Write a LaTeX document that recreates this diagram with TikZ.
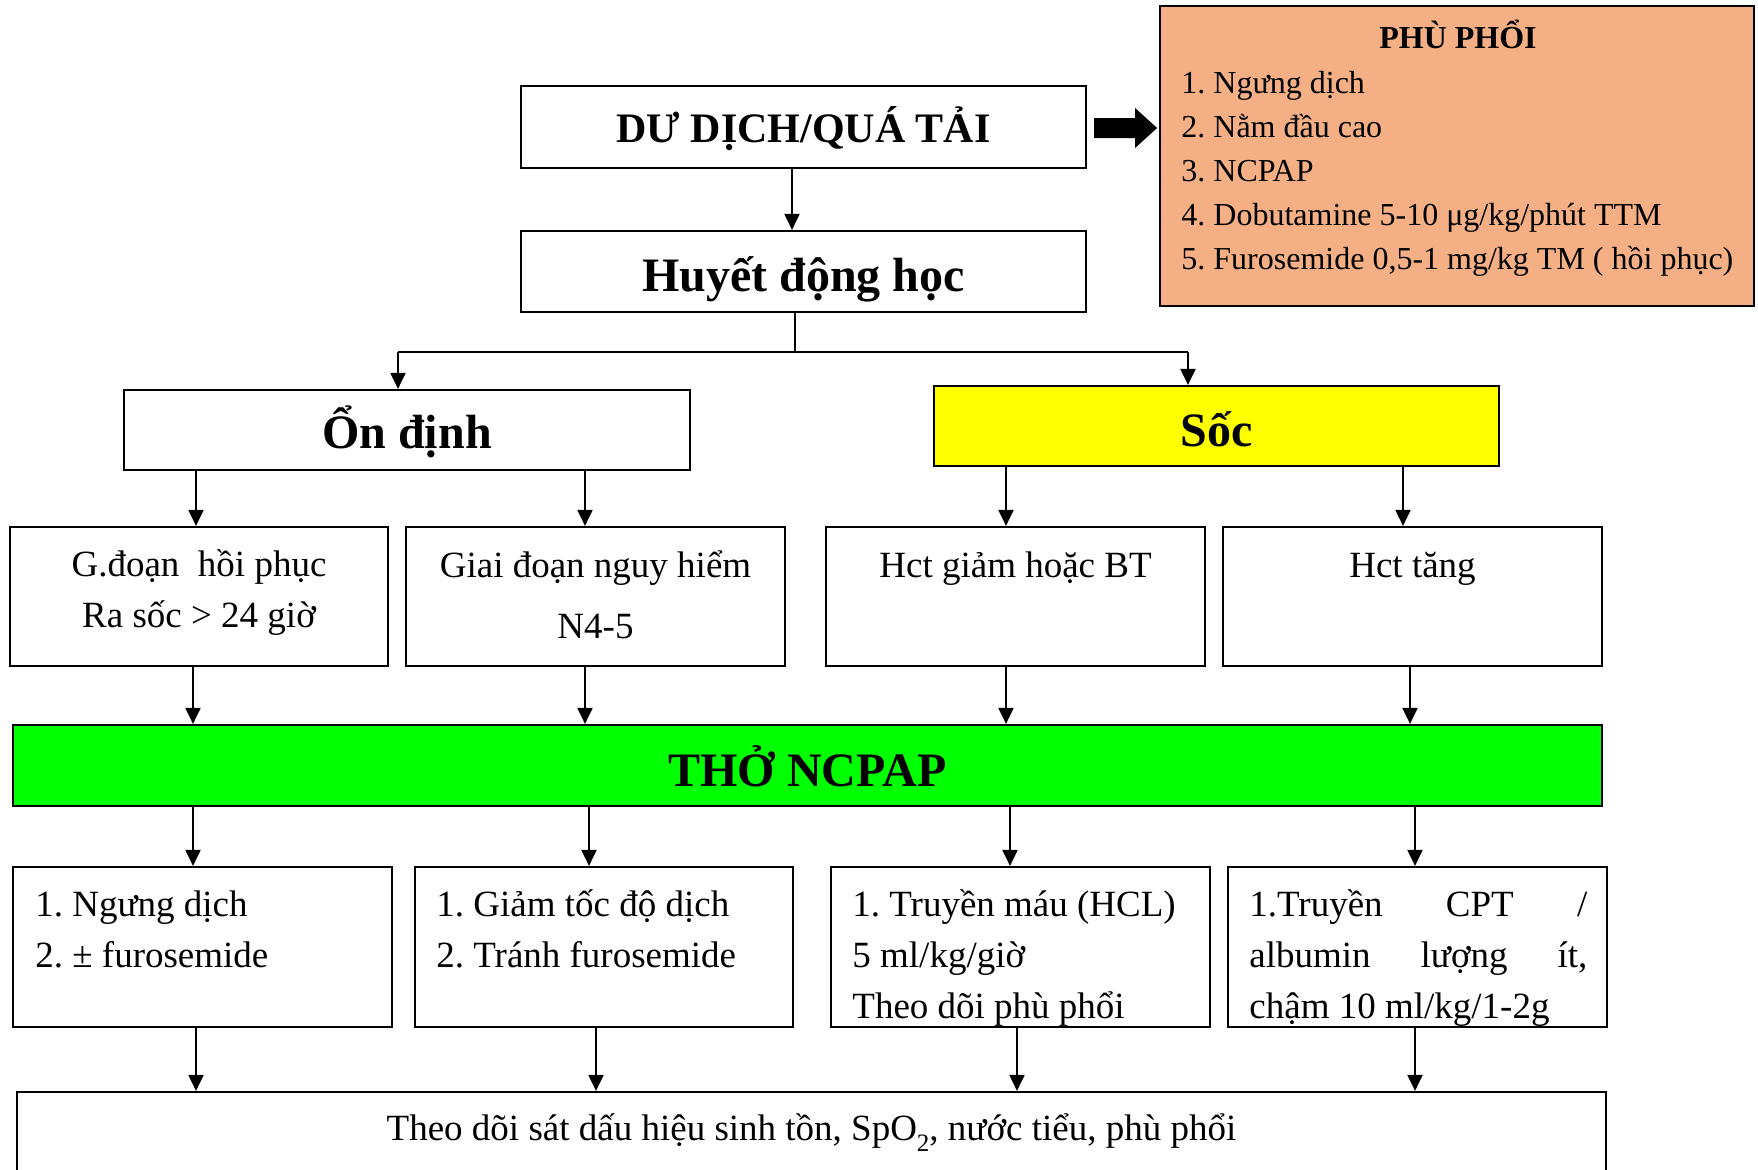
\documentclass[tikz,border=0pt]{standalone}
\usepackage{fontspec}
\setmainfont{Liberation Serif}
\usetikzlibrary{arrows.meta}
\frenchspacing
\definecolor{lungfill}{RGB}{244,176,132}
\definecolor{shockfill}{RGB}{255,255,0}
\definecolor{cpapfill}{RGB}{0,255,0}
% vertical arrow from the bottom of #2 to the top of #3, shifted by #1
\newcommand\vlink[3]{\draw[link] ([xshift=#1]#2.south) -- ([xshift=#1]#2.south |- #3.north);}
% lowered index figure
\newcommand\lowidx[1]{\raisebox{-0.3em}{\fontsize{12.5}{14}\selectfont #1}}
\begin{document}
\begin{tikzpicture}[x=0.5pt,y=-0.5pt,
  box/.style={draw, line width=1.1pt, inner sep=0pt},
  link/.style={line width=1pt, -{Triangle[length=8pt,width=7.5pt]}},
  txt/.style={inner sep=0pt, anchor=base},
  ltxt/.style={inner sep=0pt, anchor=base west},
  huge/.style={font=\fontsize{24}{28}\selectfont\bfseries},
  mid/.style={font=\fontsize{18.5}{22}\selectfont},
  small/.style={font=\fontsize{16}{20}\selectfont}]
\useasboundingbox (0,0) rectangle (1758,1169);
\clip (0,0) rectangle (1758,1169);

% boxes
\node[box, fill=lungfill, minimum width=297pt, minimum height=150pt] (pp) at (1457,156) {};
\node[box, minimum width=282.5pt, minimum height=41pt] (dd) at (803.5,127) {};
\node[box, minimum width=282.5pt, minimum height=40.5pt] (hdh) at (803.5,271.5) {};
\node[box, minimum width=283pt, minimum height=40pt] (ond) at (407,430) {};
\node[box, fill=shockfill, minimum width=282.5pt, minimum height=40pt] (soc) at (1216.5,426) {};
\node[box, minimum width=189pt, minimum height=69.5pt] (r2a) at (199,596.5) {};
\node[box, minimum width=189.5pt, minimum height=69.5pt] (r2b) at (595.5,596.5) {};
\node[box, minimum width=189.5pt, minimum height=69.5pt] (r2c) at (1015.5,596.5) {};
\node[box, minimum width=189.5pt, minimum height=69.5pt] (r2d) at (1412.5,596.5) {};
\node[box, fill=cpapfill, minimum width=794.5pt, minimum height=40.5pt] (tho) at (807.5,765.5) {};
\node[box, minimum width=189.5pt, minimum height=80pt] (r3a) at (202.5,947) {};
\node[box, minimum width=189pt, minimum height=80pt] (r3b) at (604,947) {};
\node[box, minimum width=189.5pt, minimum height=80pt] (r3c) at (1020.5,947) {};
\node[box, minimum width=189.5pt, minimum height=80pt] (r3d) at (1417.5,947) {};
\node[box, minimum width=794.5pt, minimum height=79pt] (bot) at (811.5,1171) {};

% texts
\node[txt, font=\fontsize{16}{20}\selectfont\bfseries] (ppT) at (1458,48) {PHÙ PHỔI};
\node[ltxt, small] (pp1) at (1181,93) {1. Ngưng dịch};
\node[ltxt, small] (pp2) at (1181,137) {2. Nằm đầu cao};
\node[ltxt, small] (pp3) at (1181,181) {3. NCPAP};
\node[ltxt, small] (pp4) at (1181,225) {4. Dobutamine 5-10 μg/kg/phút TTM};
\node[ltxt, small] (pp5) at (1181,269) {5. Furosemide 0,5-1 mg/kg TM ( hồi phục)};

\node[txt, font=\fontsize{21}{24}\selectfont\bfseries] (ddT) at (803.5,142) {DƯ DỊCH/QUÁ TẢI};
\node[txt, huge] (hdhT) at (803.5,291) {Huyết động học};
\node[txt, huge] (ondT) at (407,448) {Ổn định};
\node[txt, huge] (socT) at (1216.5,446) {Sốc};

\node[txt, mid] (r2a1) at (199,576) {G.đoạn\ \ hồi phục};
\node[txt, mid] (r2a2) at (199,627) {Ra sốc > 24 giờ};
\node[txt, mid] (r2b1) at (595.5,577) {Giai đoạn nguy hiểm};
\node[txt, mid] (r2b2) at (595.5,638) {N4-5};
\node[txt, mid] (r2c1) at (1015.5,577) {Hct giảm hoặc BT};
\node[txt, mid] (r2d1) at (1412.5,577) {Hct tăng};

\node[txt, huge] (thoT) at (807.5,786) {THỞ NCPAP};

\node[ltxt, mid] (r3a1) at (35,916) {1. Ngưng dịch};
\node[ltxt, mid] (r3a2) at (35,967) {2. ± furosemide};
\node[ltxt, mid] (r3b1) at (436,916) {1. Giảm tốc độ dịch};
\node[ltxt, mid] (r3b2) at (436,967) {2. Tránh furosemide};
\node[ltxt, mid] (r3c1) at (852,916) {1. Truyền máu (HCL)};
\node[ltxt, mid] (r3c2) at (852,967) {5 ml/kg/giờ};
\node[ltxt, mid] (r3c3) at (852,1018) {Theo dõi phù phổi};
\node[ltxt, mid] (r3d1) at (1249,916) {\hbox to 169pt{1.Truyền\hfill CPT\hfill /}};
\node[ltxt, mid] (r3d2) at (1249,967) {\hbox to 169pt{albumin\hfill lượng\hfill ít,}};
\node[ltxt, mid] (r3d3) at (1249,1018) {chậm 10 ml/kg/1-2g};

\node[txt, mid] (botT) at (811.5,1140) {Theo dõi sát dấu hiệu sinh tồn, SpO\lowidx{2}, nước tiểu, phù phổi};

% block arrow towards the lung oedema box
\fill ([xshift=3.5pt,yshift=4.5pt]dd.east) -- ([xshift=24pt,yshift=4.5pt]dd.east)
  -- ([xshift=24pt,yshift=9.5pt]dd.east) -- ([xshift=35pt,yshift=-0.5pt]dd.east)
  -- ([xshift=24pt,yshift=-10.5pt]dd.east) -- ([xshift=24pt,yshift=-5.5pt]dd.east)
  -- ([xshift=3.5pt,yshift=-5.5pt]dd.east) -- cycle;

% connectors
\vlink{-5.75pt}{dd}{hdh}
\coordinate (bus) at (0,352);
\path ([xshift=-4.25pt]hdh.south) coordinate (stem);
\path ([xshift=-4.5pt]ond.north) coordinate (ondIn);
\path ([xshift=-14.25pt]soc.north) coordinate (socIn);
\draw[line width=1pt] (stem) -- (stem |- bus);
\draw[line width=1pt] (ondIn |- bus) -- (socIn |- bus);
\draw[link] (ondIn |- bus) -- (ondIn);
\draw[link] (socIn |- bus) -- (socIn);

\vlink{-105.5pt}{ond}{r2a}
\vlink{89pt}{ond}{r2b}
\vlink{-105.25pt}{soc}{r2c}
\vlink{93.25pt}{soc}{r2d}

\vlink{-3pt}{r2a}{tho}
\vlink{-5.25pt}{r2b}{tho}
\vlink{-4.75pt}{r2c}{tho}
\vlink{-1.25pt}{r2d}{tho}

\draw[link] ([xshift=-307.25pt]tho.south) -- ([xshift=-307.25pt]tho.south |- r3a.north);
\draw[link] ([xshift=-109.25pt]tho.south) -- ([xshift=-109.25pt]tho.south |- r3b.north);
\draw[link] ([xshift=101.25pt]tho.south) -- ([xshift=101.25pt]tho.south |- r3c.north);
\draw[link] ([xshift=303.75pt]tho.south) -- ([xshift=303.75pt]tho.south |- r3d.north);

\vlink{-3.25pt}{r3a}{bot}
\vlink{-4pt}{r3b}{bot}
\vlink{-1.75pt}{r3c}{bot}
\vlink{-1.25pt}{r3d}{bot}
\end{tikzpicture}
\end{document}
